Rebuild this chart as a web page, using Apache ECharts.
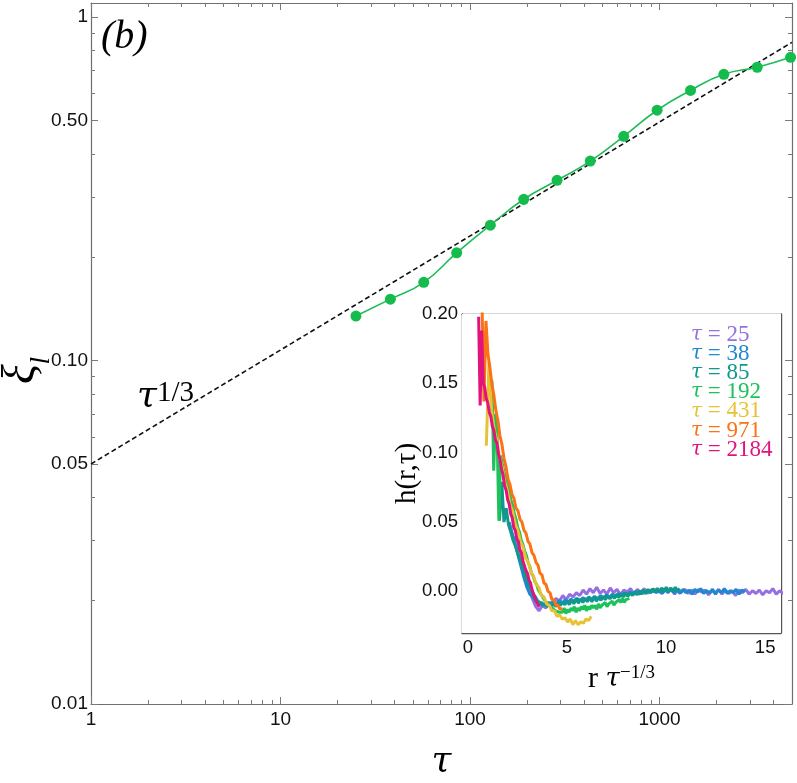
<!DOCTYPE html>
<html>
<head>
<meta charset="utf-8">
<script src="https://cdn.jsdelivr.net/npm/echarts@6/dist/echarts.min.js"></script>
<style>html,body{margin:0;padding:0;background:#fff}#c{width:797px;height:783px}</style>
</head>
<body>
<div id="c"></div>
<script>
// ---------- main panel data ----------
const tau = [25, 38, 57, 85, 128, 192, 288, 431, 647, 971, 1457, 2184, 3276, 4915];
const xi  = [0.1348, 0.151, 0.169, 0.206, 0.248, 0.295, 0.335, 0.381, 0.450, 0.536, 0.612, 0.682, 0.715, 0.764];
const guideTau = [1, 5000];
const guideXi  = [0.05, 0.845];

const xMajor = [1, 10, 100, 1000];
const xMajorLabels = ['1', '10', '100', '1000'];
const xMinor = [2,3,4,5,6,7,8,9,20,30,40,50,60,70,80,90,200,300,400,500,600,700,800,900,2000,3000,4000];
const yMajor = [0.01, 0.05, 0.1, 0.5, 1];
const yMajorLabels = ['0.01', '0.05', '0.10', '0.50', '1'];
const yMinor = [0.02,0.03,0.04,0.06,0.07,0.08,0.09,0.2,0.3,0.4,0.6,0.7,0.8,0.9];

// ---------- inset data ----------
const insetTau = [25, 38, 85, 192, 431, 971, 2184];
const insetNames = ['τ = 25', 'τ = 38', 'τ = 85', 'τ = 192', 'τ = 431', 'τ = 971', 'τ = 2184'];
const insetColors = ['#9470e2', '#1f88cf', '#0f998c', '#1ec25a', '#e7c236', '#fb7314', '#e0147c'];
const rStart = 7;
const rStep = [0.5, 0.5, 0.5, 0.5, 1, 1, 1];

const h25 = [0.040,0.030,0.020,0.010,0.002,-0.005,-0.011,-0.014,-0.010,-0.012,-0.008,-0.009,-0.005,-0.007,-0.003,-0.006,-0.002,-0.004,-0.001,-0.003,0.001,
  -0.002,0.002,-0.001,0.003,-0.0015,0.001,-0.002,0.0025,-0.001,0.0015,
  -0.0025,0.001,-0.0005,0.002,-0.002,0.0015,-0.001,0.002,-0.0015,0.001,
  -0.0005,0.002,-0.0015,0.0015,-0.001,0.002,-0.002,0.001,-0.0005,0.0015,
  -0.0015,0.001,-0.002,0.0015,-0.0005,0.001,-0.0025,0.0005,-0.001,0.0015,
  -0.002,0.001,-0.0015,0.0005,-0.003,0.001,-0.001,0.0015,-0.002,0.0005,
  -0.0015,0.001,-0.0025,0.0005,-0.001,0.002,-0.002,0.0005,-0.0015,0.000];
const h38 = [0.050,0.042,0.034,0.026,0.018,0.010,0.003,-0.002,-0.004,-0.007,-0.009,-0.008,-0.010,-0.008,-0.0095,-0.007,-0.009,-0.0065,-0.0085,-0.006,-0.008,
  -0.0055,-0.0075,-0.005,-0.007,-0.0045,-0.0065,-0.004,-0.006,-0.0035,-0.0055,
  -0.003,-0.005,-0.0025,-0.0045,-0.002,-0.004,-0.0015,-0.0035,-0.001,-0.003,
  -0.0005,-0.0025,0.000,-0.002,0.0005,-0.0015,0.001,-0.001,0.0015,-0.001,
  0.001,-0.0015,0.0015,-0.0005,0.002,-0.001,0.001,-0.0015,0.0015,-0.001,
  0.001,-0.002,0.0015,-0.0005,0.002,-0.0015,0.0005,-0.001,0.0015,-0.002,
  0.001,-0.001,0.002,-0.0015,0.0005,-0.001,0.0015,-0.002,0.001,-0.0005];
const h85 = [0.051,0.079,0.050,0.060,0.048,0.043,0.037,0.033,0.028,0.023,
  0.019,0.014,0.009,0.005,0.002,-0.002,-0.004,-0.007,-0.008,-0.010,
  -0.009,-0.011,-0.009,-0.011,-0.009,-0.011,-0.008,-0.010,-0.008,-0.0095,-0.007,
  -0.0095,-0.006,-0.009,-0.005,-0.0085,-0.0055,-0.008,-0.005,-0.0075,-0.0045,
  -0.0075,-0.004,-0.007,-0.0045,-0.0065,-0.0035,-0.006,-0.003,-0.0055,-0.003,
  -0.005,-0.002,-0.0045,-0.0015,-0.004,-0.001,-0.0035,-0.001,-0.003,0.000,
  -0.0025,0.0005,-0.002,0.001,-0.0015,0.0015,-0.001,0.002,-0.0005,0.002,
  -0.0005,0.0025,0.000,0.003,0.000,0.0025,-0.0005,0.003,0.0005,0.002];
const h192 = [0.152,0.087,0.128,0.112,0.051,0.098,0.092,0.086,0.082,0.076,
  0.072,0.066,0.062,0.056,0.052,0.046,0.043,0.037,0.034,0.029,
  0.026,0.021,0.018,0.013,0.011,0.007,0.005,0.001,0.000,-0.003,
  -0.004,-0.007,-0.008,-0.010,-0.010,-0.012,-0.012,-0.014,-0.013,-0.015,-0.014,
  -0.015,-0.012,-0.016,-0.013,-0.015,-0.012,-0.014,-0.011,-0.015,-0.012,
  -0.014,-0.011,-0.013,-0.010,-0.014,-0.011,-0.013,-0.010,-0.012,-0.010,
  -0.013,-0.009,-0.012,-0.010,-0.011,-0.008,-0.011,-0.009,-0.010,-0.007,
  -0.010,-0.008,-0.009,-0.006,-0.008,-0.005,-0.008,-0.006,-0.007,-0.005];
const h431 = [0.105,0.165,0.131,0.117,0.109,0.097,0.090,0.079,0.073,0.063,
  0.058,0.049,0.044,0.036,0.032,0.024,0.021,0.014,0.011,0.005,
  0.003,-0.003,-0.004,-0.009,-0.010,-0.014,-0.014,-0.018,-0.017,-0.020,
  -0.019,-0.022,-0.020,-0.024,-0.021,-0.024,-0.022,-0.023,-0.020,-0.021,-0.018];
const h971 = [0.21,0.137,0.195,0.171,0.161,0.149,0.141,0.130,0.123,0.112,
  0.106,0.096,0.090,0.081,0.077,0.070,0.067,0.060,0.058,0.052,
  0.050,0.044,0.042,0.036,0.034,0.028,0.026,0.021,0.019,0.013,
  0.012,0.006,0.005,0.000,-0.001,-0.006,-0.006,-0.010,-0.010,-0.013,-0.012];
const h2184 = [0.198,0.134,0.188,0.150,0.147,0.139,0.136,0.129,0.126,0.119,
  0.116,0.109,0.107,0.099,0.095,0.088,0.084,0.076,0.073,0.066,
  0.063,0.056,0.053,0.046,0.044,0.038,0.036,0.030,0.028,0.022,
  0.021,0.015,0.013,0.008,0.006,0.001,0.000,-0.005,-0.006,-0.010,-0.011];
const insetH = [h25, h38, h85, h192, h431, h971, h2184];

const hxMajor = [0, 5, 10, 15];
const hxMajorLabels = ['0', '5', '10', '15'];
const hxMinor = [1,2,3,4,6,7,8,9,11,12,13,14];
const hyMajor = [0, 0.05, 0.1, 0.15, 0.2];
const hyMajorLabels = ['0.00', '0.05', '0.10', '0.15', '0.20'];
const hyMinor = [-0.02,-0.01,0.01,0.02,0.03,0.04,0.06,0.07,0.08,0.09,0.11,0.12,0.13,0.14,0.16,0.17,0.18,0.19];

// ---------- helpers ----------
const lg = Math.log10;
const ident = v => v;
const SANS = '"Liberation Sans", Arial, sans-serif';
const SERIF = '"Liberation Serif", "Times New Roman", serif';
const GREEK = '"DejaVu Serif", "Liberation Serif", serif';

function fmt(vals, labels, tr) {
  return v => {
    for (let i = 0; i < vals.length; i++) if (Math.abs(tr(vals[i]) - v) < 1e-6) return labels[i];
    return '';
  };
}

function axisGroup(dim, grid, min, max, major, labels, minor, tr, o) {
  const mj = major.map(tr), mn = minor.map(tr);
  const pos = dim === 'x' ? ['bottom', 'top'] : ['left', 'right'];
  const line = {show: true, onZero: false, lineStyle: {color: o.lineColor, width: o.lineWidth}};
  const noLine = {show: false, onZero: false};
  const tick = (vals, len) => ({show: true, inside: true, length: len, customValues: vals,
    lineStyle: {color: o.tickColor, width: 1}});
  const base = {type: 'value', gridIndex: grid, min: min, max: max, splitLine: {show: false},
    axisPointer: {show: false}, silent: true};
  const first = Object.assign({}, base, {
    position: pos[0], axisLine: line, axisTick: tick(mj, o.majorLen), nameMoveOverlap: false,
    axisLabel: {show: true, customValues: mj, formatter: fmt(major, labels, tr), margin: o.labelMargin,
      fontFamily: SANS, fontSize: o.labelSize, color: '#111'}
  }, o.name || {});
  return [
    first,
    Object.assign({}, base, {position: pos[0], axisLine: noLine, axisTick: tick(mn, o.minorLen), axisLabel: {show: false}}),
    Object.assign({}, base, {position: pos[1], axisLine: line, axisTick: tick(mj, o.majorLen), axisLabel: {show: false}}),
    Object.assign({}, base, {position: pos[1], axisLine: noLine, axisTick: tick(mn, o.minorLen), axisLabel: {show: false}})
  ];
}

const mainStyle = {lineColor: '#6f6f6f', lineWidth: 1.2, tickColor: '#7a7a7a', majorLen: 7, minorLen: 4, labelSize: 19};
const insetStyle = {lineColor: '#555', lineWidth: 1.4, tickColor: '#555', majorLen: 6, minorLen: 3.5, labelSize: 18.5};

const xAxes = [].concat(
  axisGroup('x', 0, 0, lg(5000), xMajor, xMajorLabels, xMinor, lg, Object.assign({}, mainStyle, {
    labelMargin: 6,
    name: {name: 'τ', nameLocation: 'middle', nameGap: 40,
      nameTextStyle: {fontFamily: GREEK, fontStyle: 'italic', fontSize: 36, color: '#000'}}
  })),
  axisGroup('x', 1, -0.3, 15.8, hxMajor, hxMajorLabels, hxMinor, ident, Object.assign({}, insetStyle, {
    labelMargin: 5,
    name: {name: '{r|r }{t|τ}{s|−1/3}', nameLocation: 'middle', nameGap: 31,
      nameTextStyle: {color: '#000', rich: {
        r: {fontFamily: SERIF, fontSize: 30, color: '#000'},
        t: {fontFamily: GREEK, fontStyle: 'italic', fontSize: 26, color: '#000'},
        s: {fontFamily: SERIF, fontSize: 19, color: '#000', verticalAlign: 'top'}
      }}}
  }))
);

const yAxes = [].concat(
  axisGroup('y', 0, -2, lg(1.1), yMajor, yMajorLabels, yMinor, lg, Object.assign({}, mainStyle, {
    labelMargin: 3,
    name: {name: '{a|ξ}{b|l}', nameLocation: 'middle', nameGap: 36,
      nameTextStyle: {color: '#000', rich: {
        a: {fontFamily: SERIF, fontStyle: 'italic', fontSize: 46, color: '#000', verticalAlign: 'bottom', padding: [0, 0, 10, 0]},
        b: {fontFamily: SERIF, fontStyle: 'italic', fontSize: 27, color: '#000', verticalAlign: 'bottom', padding: [0, 34, 0, 0]}
      }}}
  })),
  axisGroup('y', 1, -0.03, 0.2, hyMajor, hyMajorLabels, hyMinor, ident, Object.assign({}, insetStyle, {
    labelMargin: 4,
    name: {name: 'h(r,τ)', nameLocation: 'middle', nameGap: 40,
      nameTextStyle: {fontFamily: SERIF, fontSize: 29, color: '#000'}}
  }))
);

const series = [
  {
    type: 'line', name: 'guide', xAxisIndex: 0, yAxisIndex: 0, showSymbol: false, silent: true,
    data: guideTau.map((t, i) => [lg(t), lg(guideXi[i])]),
    lineStyle: {color: '#111', width: 1.6, type: [5, 3]}, z: 3
  },
  {
    type: 'line', name: 'xi', xAxisIndex: 0, yAxisIndex: 0, smooth: 0.5, symbol: 'circle', symbolSize: 11,
    data: tau.map((t, i) => [lg(t), lg(xi[i])]),
    lineStyle: {color: '#1dbd55', width: 1.6}, itemStyle: {color: '#15bc4d'}, z: 4
  }
];
insetH.forEach((arr, k) => {
  const scale = Math.cbrt(insetTau[k]);
  series.push({
    type: 'line', name: insetNames[k], xAxisIndex: 4, yAxisIndex: 4, showSymbol: false, clip: true,
    data: arr.map((h, i) => [(rStart + i * rStep[k]) / scale, h]),
    lineStyle: {color: insetColors[k], width: 3}, itemStyle: {color: insetColors[k]}, z: 5 + k
  });
});

const option = {
  animation: false,
  backgroundColor: '#fff',
  grid: [
    {left: 91, top: 3, right: 5, bottom: 79, containLabel: false, outerBoundsMode: 'none'},
    {left: 462, top: 314, width: 319, height: 319, show: true, backgroundColor: '#fff', borderWidth: 0,
      containLabel: false, outerBoundsMode: 'none', z: 1}
  ],
  xAxis: xAxes,
  yAxis: yAxes,
  legend: {
    show: true, orient: 'vertical', left: 681, top: 318, itemWidth: 0, itemHeight: 0, itemGap: -3.8,
    selectedMode: false, icon: 'rect',
    data: insetNames.map((n, k) => ({name: n, textStyle: {color: insetColors[k]}})),
    formatter: n => '{t|τ}{n|' + n.slice(1) + '}',
    textStyle: {fontFamily: SERIF, fontSize: 23, rich: {
      t: {fontFamily: GREEK, fontStyle: 'italic', fontSize: 20},
      n: {fontFamily: SERIF, fontSize: 23}
    }}
  },
  graphic: [
    {type: 'text', left: 101, top: 17, z: 10,
      style: {text: '(b)', font: 'italic 40px "Liberation Serif"', fill: '#000'}},
    {type: 'text', left: 137, top: 379, z: 10,
      style: {text: '{t|τ}{s|1/3}', fill: '#000', rich: {
        t: {fontFamily: 'DejaVu Serif', fontStyle: 'italic', fontSize: 36},
        s: {fontFamily: 'Liberation Serif', fontSize: 29, verticalAlign: 'top'}
      }}}
  ],
  series: series
};

const chart = echarts.init(document.getElementById('c'), null, {renderer: 'canvas'});
chart.setOption(option);
</script>
</body>
</html>
